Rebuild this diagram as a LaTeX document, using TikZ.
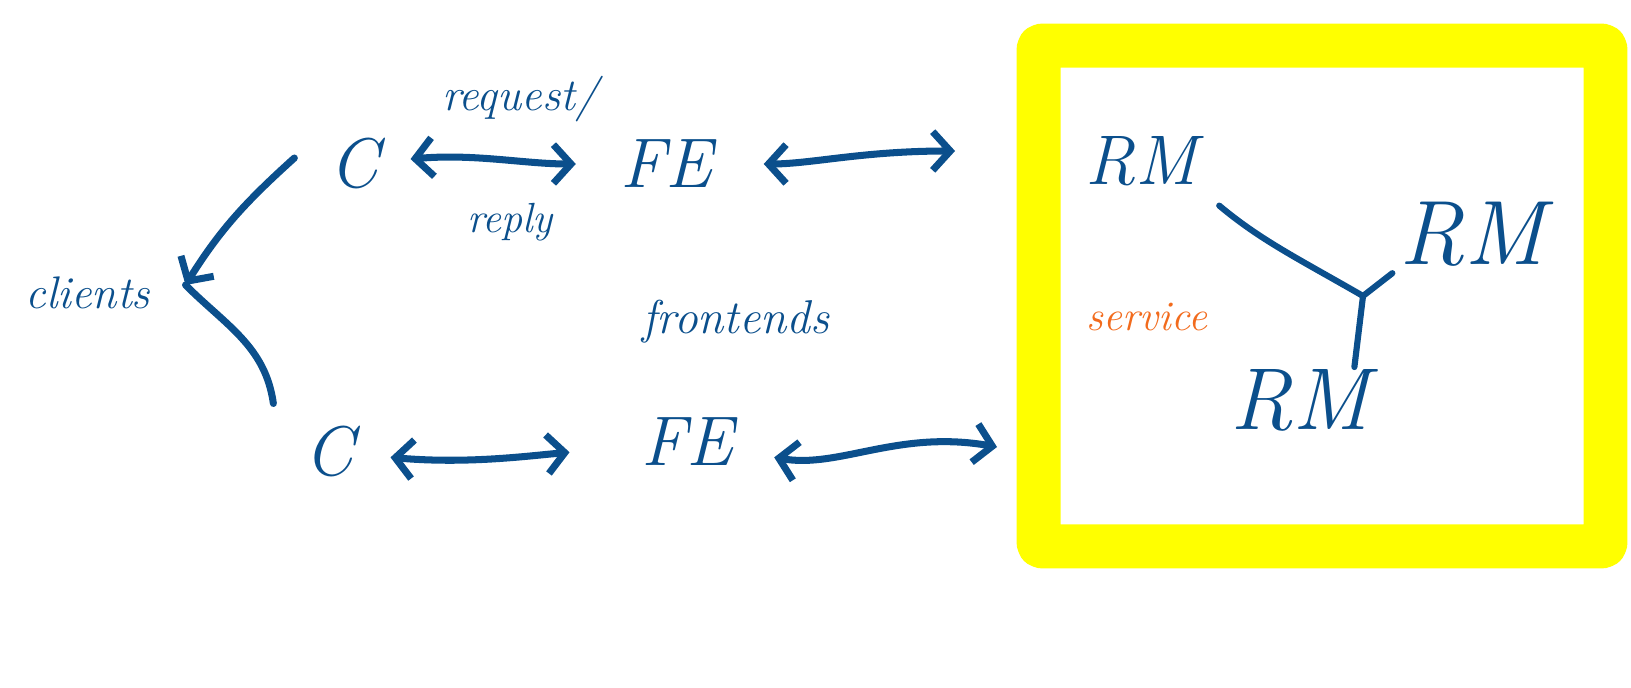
\documentclass[tikz,border=0pt]{standalone}
\usepackage{tikz}
\usetikzlibrary{arrows.meta}
\definecolor{ink}{HTML}{0B4F8C}
\definecolor{hilite}{HTML}{FFFF00}
\definecolor{note}{HTML}{F26B1D}

\begin{document}
\begin{tikzpicture}[x=0.02cm, y=-0.02cm, >={Straight Barb[length=10pt,width=22pt]},
    line width=4pt, line cap=round, line join=round,
    main/.style = {text=ink, font=\fontsize{40}{44}\selectfont\itshape, inner sep=2pt},
    word/.style = {text=ink, font=\fontsize{26}{30}\selectfont\itshape, inner sep=1pt},
    link/.style = {draw=ink},
    box/.style = {draw=hilite, line width=25pt, rounded corners=2pt,
                  minimum width=11.34cm, minimum height=10.02cm}]
    \useasboundingbox (0,0) rectangle (1631,688);
    % Nodes

    \node[box] (svcbox) at (1322,296) {};

    \node[main] (c1) at (354,164) {C};
    \node[main] (c2) at (329,452) {C};
    \node[main] (fe1) at (666,164) {FE};
    \node[main] (fe2) at (687,442) {FE};
    \node[word] (clients) at (88,293) {clients};
    \node[word] (req) at (520,99) {request/};
    \node[word, font=\fontsize{24}{28}\selectfont\itshape] (rep) at (510,222) {reply};
    \node[word, font=\fontsize{27}{30}\selectfont\itshape] (fronts) at (736,322) {frontends};

    \node[main] (rm1) at (1141,161) {RM};
    \node[main, font=\fontsize{52}{56}\selectfont\itshape] (rm2) at (1472,234) {RM};
    \node[main, font=\fontsize{50}{54}\selectfont\itshape] (rm3) at (1300,400) {RM};
    \node[word, text=note, font=\fontsize{24}{28}\selectfont\itshape] (svc) at (1147,317) {service};

    \coordinate (in1) at (955,151);
    \coordinate (in2) at (997,447);
    \coordinate (jn) at (1363,296);

    % Edges

    \draw[link, <->, shorten <=0.5cm, shorten >=0.75cm] (c1) to[out=5, in=180] (fe1);
    \draw[link, <->, shorten <=0.9cm] (fe1) to[out=0, in=180] (in1);
    \draw[link, <->, shorten <=0.6cm, shorten >=1.3cm] (c2) to[out=-5, in=185] (fe2);
    \draw[link, <->, shorten <=0.7cm] (fe2) to[out=-10, in=170] (in2);

    \draw[link, ->] ([shift={(-28,-6)}]c1.west) to[out=222, in=58] ([shift={(30,-8)}]clients.east);
    \draw[link] ([shift={(-24,-16)}]c2.north west) to[out=98, in=-45] ([shift={(30,-8)}]clients.east);

    \draw[link, line width=3.5pt, shorten <=0.4cm] (rm1.south east) to[out=-40, in=150] (jn);
    \draw[link, line width=3.5pt] (jn) -- (rm2.south west);
    \draw[link, line width=3.5pt] (jn) -- ([xshift=-0.45cm, yshift=-0.1cm]rm3.north east);

\end{tikzpicture}
\end{document}
